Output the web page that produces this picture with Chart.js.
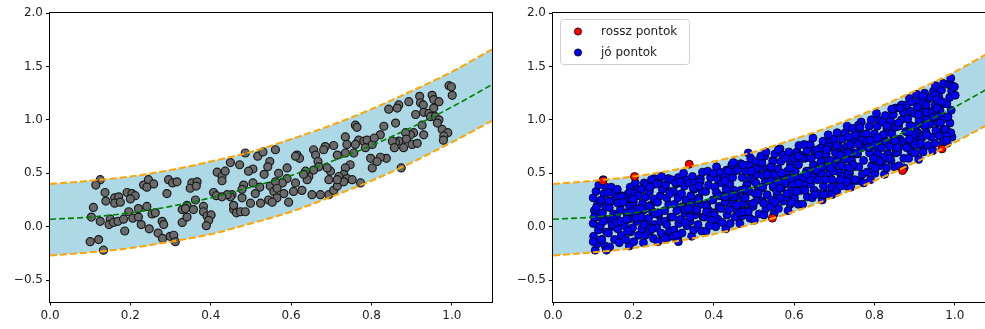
<!DOCTYPE html>
<html><head><meta charset="utf-8">
<script src="https://cdn.jsdelivr.net/npm/chart.js@4/dist/chart.umd.min.js"></script>
<style>
html,body{margin:0;padding:0;background:#fff;}
#wrap{position:relative;width:985px;height:329px;overflow:hidden;}
canvas{position:absolute;top:0;}
</style></head><body>
<div id="wrap">
<canvas id="c1" width="500" height="329" style="left:0px"></canvas>
<canvas id="c2" width="500" height="329" style="left:503px"></canvas>
</div>
<script>
// ---- data ----
const curveX = [0, 0.1, 0.2, 0.3, 0.4, 0.5, 0.6, 0.7, 0.8, 0.9, 1.0, 1.1];
const centerY = [0.07, 0.09, 0.13, 0.19, 0.27, 0.37, 0.48, 0.61, 0.76, 0.93, 1.12, 1.33];
const upperY  = [0.40, 0.43, 0.47, 0.53, 0.61, 0.70, 0.82, 0.95, 1.10, 1.27, 1.45, 1.66];
const lowerY  = [-0.27, -0.24, -0.20, -0.14, -0.07, 0.03, 0.14, 0.28, 0.43, 0.60, 0.79, 0.99];

const xTicks = [0, 0.2, 0.4, 0.6, 0.8, 1.0];
const yTicks = [-0.5, 0, 0.5, 1.0, 1.5, 2.0];

const legendLabels = ['rossz pontok', 'jó pontok'];

// left panel sample points
const mintaPontok = [
[0.125,0.44],[0.114,0.39],[0.137,0.32],[0.139,0.24],[0.161,0.27],[0.171,0.28],[0.161,0.22],[0.175,0.23],[0.192,0.32],[0.204,0.31],[0.212,0.29],[0.200,0.26],[0.233,0.39],[0.245,0.44],[0.258,0.40],[0.241,0.37],[0.108,0.18],[0.103,0.09],[0.125,0.05],[0.150,0.07],[0.147,0.02],[0.158,0.04],[0.169,0.05],[0.183,0.07],[0.196,0.14],[0.206,0.08],[0.220,0.09],[0.227,0.02],[0.220,0.17],[0.241,0.19],[0.254,0.12],[0.262,0.13],[0.247,-0.02],[0.186,-0.04],[0.269,-0.06],[0.279,0.05],[0.283,0.02],[0.280,-0.11],[0.299,-0.09],[0.308,-0.08],[0.312,-0.14],[0.100,-0.14],[0.121,-0.12],[0.133,-0.22],[0.291,0.31],[0.295,0.44],[0.305,0.41],[0.316,0.42],[0.329,0.04],[0.329,0.16],
[0.486,0.69],[0.517,0.66],[0.530,0.70],[0.547,0.61],[0.542,0.56],[0.533,0.49],[0.505,0.54],[0.494,0.52],[0.472,0.58],[0.449,0.60],[0.416,0.51],[0.428,0.47],[0.436,0.52],[0.428,0.43],[0.353,0.41],[0.366,0.42],[0.349,0.36],[0.364,0.38],[0.482,0.39],[0.478,0.35],[0.505,0.41],[0.522,0.37],[0.511,0.31],[0.548,0.38],[0.557,0.33],[0.565,0.27],[0.544,0.25],[0.524,0.22],[0.499,0.22],[0.478,0.27],[0.453,0.30],[0.449,0.28],[0.441,0.30],[0.407,0.32],[0.414,0.29],[0.428,0.28],[0.362,0.25],[0.341,0.20],[0.337,0.17],[0.357,0.16],[0.382,0.19],[0.382,0.14],[0.391,0.10],[0.401,0.11],[0.395,0.06],[0.389,0.01],[0.341,0.09],[0.457,0.16],[0.464,0.13],[0.474,0.14],[0.486,0.14],[0.457,0.20],[0.553,0.23],
[0.760,0.95],[0.764,0.93],[0.735,0.84],[0.739,0.77],[0.768,0.81],[0.781,0.80],[0.789,0.81],[0.785,0.74],[0.760,0.77],[0.756,0.69],[0.802,0.77],[0.798,0.64],[0.802,0.55],[0.706,0.76],[0.685,0.75],[0.681,0.72],[0.656,0.72],[0.661,0.67],[0.615,0.67],[0.621,0.64],[0.611,0.66],[0.561,0.72],[0.715,0.67],[0.735,0.69],[0.747,0.58],[0.735,0.55],[0.731,0.49],[0.719,0.47],[0.698,0.52],[0.690,0.55],[0.694,0.44],[0.667,0.61],[0.669,0.56],[0.656,0.53],[0.644,0.47],[0.636,0.52],[0.640,0.44],[0.631,0.49],[0.590,0.55],[0.590,0.45],[0.578,0.41],[0.561,0.42],[0.565,0.36],[0.582,0.31],[0.606,0.33],[0.611,0.41],[0.627,0.34],[0.652,0.30],[0.673,0.30],[0.694,0.30],[0.706,0.34],[0.715,0.38],[0.739,0.45],[0.773,0.41],[0.731,0.42],[0.715,0.44],[0.569,0.50],[0.594,0.23],[0.752,0.44],
[0.993,1.32],[0.999,1.31],[1.001,1.23],[0.951,1.23],[0.955,1.19],[0.968,1.17],[0.920,1.22],[0.922,1.16],[0.929,1.14],[0.893,1.17],[0.868,1.14],[0.843,1.10],[0.864,1.11],[0.910,1.05],[0.930,1.07],[0.943,1.06],[0.955,1.11],[0.947,1.03],[0.959,1.03],[0.968,1.00],[0.964,0.97],[0.976,0.91],[0.990,0.88],[0.980,0.85],[0.979,0.81],[0.930,0.86],[0.905,0.88],[0.897,0.86],[0.885,0.88],[0.887,0.82],[0.901,0.77],[0.880,0.74],[0.914,0.78],[0.868,0.80],[0.860,0.79],[0.852,0.80],[0.857,0.74],[0.860,0.97],[0.831,0.94],[0.822,0.86],[0.807,0.83],[0.837,0.64],[0.822,0.65],[0.814,0.61],[0.874,0.55],[0.926,0.95]
];

// right panel: points outside the band
const rosszPontok = [[0.124,0.43],[0.203,0.47],[0.339,0.585],[0.546,0.08],[0.870,0.525],[0.968,0.728]];

// right panel: points inside the band
const joPontok = [
[.105,-.22],[.110,-.16],[.101,-.09],[.113,-.03],[.100,.03],[.108,.09],[.103,.15],[.111,.21],[.100,.27],[.107,.33],
[.130,-.18],[.121,-.12],[.133,-.05],[.118,.01],[.128,.07],[.123,.13],[.131,.19],[.120,.25],[.127,.31],[.132,.37],
[.141,-.19],[.153,-.12],[.138,-.06],[.148,.00],[.143,.06],[.151,.12],[.140,.18],[.147,.24],[.152,.31],[.145,.37],
[.165,-.15],[.170,-.08],[.161,-.02],[.173,.04],[.158,.10],[.168,.16],[.163,.22],[.171,.29],[.160,.35],
[.190,-.18],[.181,-.12],[.193,-.05],[.178,.01],[.188,.07],[.183,.13],[.191,.19],[.180,.25],[.187,.31],[.192,.37],
[.201,-.14],[.213,-.08],[.198,-.01],[.208,.05],[.203,.11],[.211,.17],[.200,.23],[.207,.29],[.212,.35],[.205,.41],
[.225,-.15],[.230,-.08],[.221,-.02],[.233,.04],[.218,.10],[.228,.16],[.223,.22],[.231,.28],[.220,.35],[.227,.41],
[.250,-.11],[.241,-.04],[.253,.02],[.238,.08],[.248,.14],[.243,.20],[.251,.26],[.240,.33],[.247,.39],[.252,.45],
[.261,-.14],[.273,-.08],[.258,-.01],[.268,.05],[.263,.11],[.260,.23],[.267,.29],[.272,.35],[.265,.41],[.270,.47],
[.285,-.10],[.290,-.04],[.281,.03],[.293,.09],[.278,.15],[.288,.21],[.283,.27],[.291,.33],[.280,.39],[.287,.45],
[.310,-.10],[.301,-.03],[.313,.03],[.298,.09],[.308,.15],[.303,.21],[.311,.27],[.300,.33],[.307,.40],[.312,.46],
[.321,-.06],[.333,.01],[.318,.07],[.328,.13],[.323,.19],[.331,.25],[.320,.31],[.327,.38],[.332,.44],[.325,.50],
[.345,-.09],[.350,-.03],[.341,.05],[.353,.11],[.338,.17],[.348,.23],[.343,.29],[.351,.35],[.340,.41],[.347,.47],
[.370,-.04],[.361,.02],[.373,.09],[.358,.15],[.368,.21],[.363,.27],[.371,.33],[.360,.39],[.367,.45],[.372,.51],
[.381,-.04],[.393,.03],[.378,.09],[.388,.15],[.383,.21],[.380,.33],[.387,.39],[.392,.46],[.385,.52],
[.405,.00],[.410,.07],[.401,.13],[.413,.19],[.398,.25],[.408,.31],[.403,.37],[.411,.44],[.400,.50],[.407,.56],
[.430,-.02],[.421,.04],[.433,.11],[.418,.17],[.428,.23],[.423,.29],[.431,.35],[.420,.41],[.427,.47],[.432,.53],
[.441,.03],[.453,.09],[.438,.16],[.448,.22],[.443,.28],[.451,.34],[.440,.40],[.447,.46],[.452,.52],[.445,.58],
[.465,.03],[.470,.10],[.461,.16],[.473,.22],[.458,.28],[.468,.34],[.471,.46],[.460,.53],[.467,.59],
[.490,.08],[.481,.15],[.493,.21],[.478,.27],[.488,.33],[.483,.39],[.491,.45],[.480,.52],[.487,.58],[.492,.64],
[.501,.06],[.513,.12],[.498,.19],[.508,.25],[.503,.31],[.511,.37],[.500,.43],[.507,.49],[.512,.55],[.505,.61],
[.525,.11],[.530,.17],[.521,.24],[.533,.30],[.518,.36],[.528,.42],[.523,.48],[.531,.54],[.520,.60],[.527,.66],
[.550,.12],[.541,.19],[.553,.25],[.548,.37],[.543,.43],[.551,.49],[.540,.55],[.547,.62],[.552,.68],
[.561,.17],[.573,.24],[.558,.30],[.568,.36],[.563,.42],[.571,.48],[.560,.54],[.567,.61],[.572,.67],[.565,.73],
[.585,.15],[.590,.21],[.581,.28],[.593,.34],[.578,.40],[.588,.46],[.583,.52],[.591,.58],[.580,.64],[.587,.70],
[.610,.21],[.601,.27],[.613,.34],[.598,.40],[.608,.46],[.603,.52],[.611,.58],[.600,.64],[.607,.70],[.612,.76],
[.621,.21],[.633,.28],[.618,.34],[.628,.40],[.623,.46],[.631,.52],[.627,.64],[.632,.71],[.625,.77],
[.645,.27],[.650,.34],[.641,.40],[.653,.46],[.638,.52],[.648,.58],[.643,.64],[.651,.71],[.640,.77],[.647,.83],
[.670,.25],[.661,.31],[.673,.38],[.658,.44],[.668,.50],[.663,.56],[.671,.62],[.660,.68],[.667,.74],[.672,.80],
[.681,.31],[.693,.37],[.678,.44],[.688,.50],[.683,.56],[.691,.62],[.680,.68],[.687,.74],[.692,.80],[.685,.86],
[.705,.32],[.710,.39],[.713,.51],[.698,.57],[.708,.63],[.703,.69],[.711,.75],[.700,.82],[.707,.88],
[.730,.38],[.721,.45],[.733,.51],[.718,.57],[.728,.63],[.723,.69],[.731,.75],[.720,.82],[.727,.88],[.732,.94],
[.741,.37],[.753,.43],[.738,.50],[.748,.56],[.743,.62],[.751,.68],[.740,.74],[.747,.80],[.752,.86],[.745,.92],
[.765,.43],[.770,.49],[.761,.56],[.773,.62],[.758,.68],[.768,.74],[.763,.80],[.771,.86],[.760,.92],[.767,.98],
[.790,.44],[.781,.51],[.793,.57],[.788,.69],[.783,.75],[.791,.81],[.780,.87],[.787,.94],[.792,1.00],
[.801,.50],[.813,.57],[.798,.63],[.808,.69],[.803,.75],[.811,.81],[.800,.87],[.807,.94],[.812,1.00],[.805,1.06],
[.825,.49],[.830,.55],[.821,.62],[.833,.68],[.818,.74],[.828,.80],[.823,.86],[.831,.92],[.820,.98],[.827,1.04],
[.850,.56],[.841,.62],[.853,.69],[.838,.75],[.848,.81],[.843,.87],[.851,.93],[.840,.99],[.847,1.05],[.852,1.11],
[.861,.57],[.873,.64],[.858,.70],[.868,.76],[.863,.82],[.860,.94],[.867,1.00],[.872,1.07],[.865,1.13],
[.885,.64],[.890,.71],[.881,.77],[.893,.83],[.878,.89],[.888,.95],[.883,1.01],[.891,1.08],[.880,1.14],[.887,1.20],
[.910,.63],[.901,.69],[.913,.76],[.898,.82],[.908,.88],[.903,.94],[.911,1.00],[.900,1.06],[.907,1.12],[.912,1.18],[.905,1.24],
[.921,.70],[.933,.76],[.918,.83],[.928,.89],[.923,.95],[.931,1.01],[.920,1.07],[.927,1.13],[.932,1.19],[.925,1.25],
[.945,.71],[.950,.78],[.941,.84],[.953,.90],[.938,.96],[.948,1.02],[.943,1.08],[.951,1.14],[.940,1.21],[.947,1.27],[.952,1.32],
[.970,.78],[.961,.85],[.973,.91],[.958,.97],[.968,1.03],[.963,1.09],[.971,1.15],[.960,1.22],[.967,1.28],[.972,1.34],
[.981,.78],[.993,.84],[.978,.91],[.988,.97],[.983,1.03],[.991,1.09],[.980,1.15],[.987,1.21],[.992,1.27],[.985,1.33],[.990,1.39]
];

// ---- helpers ----
const toXY = (xs, ys) => xs.map((x, i) => ({x, y: ys[i]}));
const pairs = arr => arr.map(p => ({x: p[0], y: p[1]}));
const FONT = {family: 'DejaVu Sans', size: 12};

function bandDatasets() {
  return [
    {type:'scatter', showLine:true, data: toXY(curveX, upperY), borderColor:'#ffa500', borderWidth:2, borderDash:[7,3],
     pointRadius:0, cubicInterpolationMode:'monotone', fill:'+1', backgroundColor:'#add8e6', order:0},
    {type:'scatter', showLine:true, data: toXY(curveX, lowerY), borderColor:'#ffa500', borderWidth:2, borderDash:[7,3],
     pointRadius:0, cubicInterpolationMode:'monotone', fill:false, order:0},
    {type:'scatter', showLine:true, data: toXY(curveX, centerY), borderColor:'#008000', borderWidth:1.6, borderDash:[6,3],
     pointRadius:0, cubicInterpolationMode:'monotone', fill:false, order:0}
  ];
}

const framePlugin = {
  id:'frame',
  afterDatasetsDraw(chart) {
    const {ctx, chartArea:a} = chart;
    ctx.save();
    ctx.strokeStyle = '#000';
    ctx.lineWidth = 1;
    ctx.strokeRect(Math.round(a.left) - 0.5, Math.round(a.top) - 0.5, Math.round(a.right - a.left) + 1, Math.round(a.bottom - a.top) + 1);
    ctx.restore();
  }
};

const insideLegend = {
  id:'insideLegend',
  afterDraw(chart, args, opts) {
    if (!opts || !opts.show) return;
    const {ctx, chartArea:a} = chart;
    const items = chart.data.datasets.filter(d => d.legendItem);
    const bx = a.left + 7, by = a.top + 6, bw = 129, bh = 45;
    ctx.save();
    ctx.fillStyle = 'rgba(255,255,255,0.85)';
    ctx.strokeStyle = '#d0d0d0';
    ctx.lineWidth = 1;
    ctx.beginPath();
    ctx.roundRect(bx + 0.5, by + 0.5, bw, bh, 3);
    ctx.fill(); ctx.stroke();
    ctx.font = '12px "DejaVu Sans"';
    ctx.textBaseline = 'middle';
    items.forEach((d, i) => {
      const yy = by + 12.5 + i * 21;
      ctx.beginPath();
      ctx.arc(a.left + 25, yy, 3.6, 0, Math.PI * 2);
      ctx.fillStyle = d.backgroundColor;
      ctx.fill();
      ctx.strokeStyle = '#000';
      ctx.lineWidth = 0.8;
      ctx.stroke();
      ctx.fillStyle = '#222';
      ctx.fillText(d.label, a.left + 48, yy + 0.5);
    });
    ctx.restore();
  }
};

function makeOptions(showLegend) {
  return {
    responsive:false, animation:false, events:[],
    layout:{padding:{top:13, right:8, left:0, bottom:0}},
    plugins:{legend:{display:false}, tooltip:{enabled:false}, filler:{drawTime:'beforeDatasetsDraw'},
             insideLegend:{show:showLegend}},
    scales:{
      x:{type:'linear', min:0, max:1.1,
         afterBuildTicks: s => { s.ticks = xTicks.map(v => ({value:v})); },
         afterFit: s => { s.height = 27.5; },
         ticks:{font:FONT, color:'#222', padding:3, maxRotation:0, callback: v => v.toFixed(1)},
         grid:{display:true, drawOnChartArea:false, drawTicks:true, tickLength:4, tickColor:'#000', tickWidth:1},
         border:{display:false}},
      y:{type:'linear', min:-0.7, max:2.0,
         afterBuildTicks: s => { s.ticks = yTicks.map(v => ({value:v})); },
         afterFit: s => { s.width = 50; },
         ticks:{font:FONT, color:'#222', padding:3, callback: v => (v < 0 ? '\u2212' : '') + Math.abs(v).toFixed(1)},
         grid:{display:true, drawOnChartArea:false, drawTicks:true, tickLength:4, tickColor:'#000', tickWidth:1},
         border:{display:false}}
    }
  };
}

new Chart(document.getElementById('c1'), {
  type:'scatter',
  data:{datasets:[
    ...bandDatasets(),
    {data: pairs(mintaPontok), backgroundColor:'#6a6a6a', borderColor:'#1a1a1a', borderWidth:1.2, pointRadius:4, order:1}
  ]},
  options: makeOptions(false),
  plugins:[framePlugin]
});

new Chart(document.getElementById('c2'), {
  type:'scatter',
  data:{datasets:[
    ...bandDatasets(),
    {label: legendLabels[0], legendItem:true, data: pairs(rosszPontok), backgroundColor:'#ff0000', borderColor:'#000', borderWidth:0.8, pointRadius:4, order:1},
    {label: legendLabels[1], legendItem:true, data: pairs(joPontok.concat(mintaPontok)), backgroundColor:'#0000ff', borderColor:'#000', borderWidth:0.8, pointRadius:4, order:2}
  ]},
  options: makeOptions(true),
  plugins:[framePlugin, insideLegend]
});
</script>
</body></html>
